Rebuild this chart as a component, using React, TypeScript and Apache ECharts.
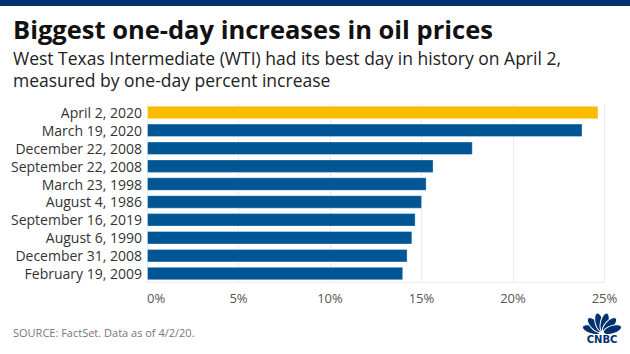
import React, { useEffect, useRef } from "react";
import * as echarts from "echarts";

const categories = [
  "April 2, 2020",
  "March 19, 2020",
  "December 22, 2008",
  "September 22, 2008",
  "March 23, 1998",
  "August 4, 1986",
  "September 16, 2019",
  "August 6, 1990",
  "December 31, 2008",
  "February 19, 2009",
];
const values = [24.67, 23.8, 17.8, 15.66, 15.28, 15.03, 14.68, 14.5, 14.24, 14.0];
const highlightIndex = 0;
const xTicks = [0, 5, 10, 15, 20, 25];

const FONT = "'Open Sans', Lato, sans-serif";
const BLUE = "#005594";
const YELLOW = "#FDBB00";
const NAVY = "#00306E";

export default function App() {
  const ref = useRef<HTMLDivElement>(null);
  useEffect(() => {
    if (!ref.current) return;
    const chart = echarts.init(ref.current, undefined, { renderer: "svg" });
    const feathers = [-72, -43, -14, 14, 43, 72].map((deg) => ({
      type: "ellipse",
      x: 602,
      y: 333,
      rotation: (-deg * Math.PI) / 180,
      shape: { cx: 0, cy: -11, rx: 4.2, ry: 9.5 },
      style: { fill: NAVY, stroke: "#fff", lineWidth: 1 },
      silent: true,
    }));
    chart.setOption({
      animation: false,
      backgroundColor: "#ffffff",
      grid: { left: 147, right: 25.5, top: 103.5, height: 179, containLabel: false },
      xAxis: {
        type: "value",
        min: 0,
        max: 25,
        interval: 5,
        axisLine: { show: true, lineStyle: { color: "#ececec", width: 1 } },
        axisTick: { show: false },
        splitLine: { show: true, lineStyle: { color: "#ececec", width: 1 } },
        axisLabel: {
          color: "#555",
          fontFamily: FONT,
          fontSize: 13,
          margin: 9,
          alignMinLabel: "left",
          formatter: (v: number) => (xTicks.includes(v) ? v + "%" : ""),
        },
      },
      yAxis: {
        type: "category",
        data: categories,
        inverse: true,
        axisLine: { show: false },
        axisTick: { show: false },
        axisLabel: {
          color: "#333",
          fontFamily: FONT,
          fontSize: 14,
          margin: 5,
          interval: 0,
        },
      },
      series: [
        {
          type: "bar",
          data: values.map((v, i) => ({
            value: v,
            itemStyle: { color: i === highlightIndex ? YELLOW : BLUE },
          })),
          barWidth: 13.5,
          itemStyle: { borderColor: "rgba(255,255,255,0.35)", borderWidth: 1 },
          silent: true,
        },
      ],
      graphic: [
        { type: "rect", shape: { x: 0, y: 0, width: 630, height: 6 }, style: { fill: NAVY }, silent: true },
        {
          type: "text",
          x: 13,
          y: 29,
          style: {
            text: "Biggest one-day increases in oil prices",
            fill: "#111",
            font: `bold 25.5px ${FONT}`,
            verticalAlign: "middle",
          },
        },
        {
          type: "text",
          x: 13,
          y: 58,
          style: {
            text: "West Texas Intermediate (WTI) had its best day in history on April 2,",
            fill: "#222",
            font: `17.5px ${FONT}`,
            verticalAlign: "middle",
          },
        },
        {
          type: "text",
          x: 13,
          y: 80,
          style: {
            text: "measured by one-day percent increase",
            fill: "#222",
            font: `17.5px ${FONT}`,
            verticalAlign: "middle",
          },
        },
        {
          type: "text",
          x: 13,
          y: 332,
          style: {
            text: "SOURCE: FactSet. Data as of 4/2/20.",
            fill: "#777",
            font: `11px ${FONT}`,
            verticalAlign: "middle",
          },
        },
        ...feathers,
        {
          type: "text",
          x: 602,
          y: 339,
          style: {
            text: "CNBC",
            fill: NAVY,
            font: `900 10px 'DejaVu Sans', sans-serif`,
            align: "center",
            verticalAlign: "middle",
          },
        },
      ],
    });
    return () => chart.dispose();
  }, []);
  return (
    <div
      ref={ref}
      style={{ position: "fixed", left: 0, top: 0, width: 630, height: 354 }}
    />
  );
}
